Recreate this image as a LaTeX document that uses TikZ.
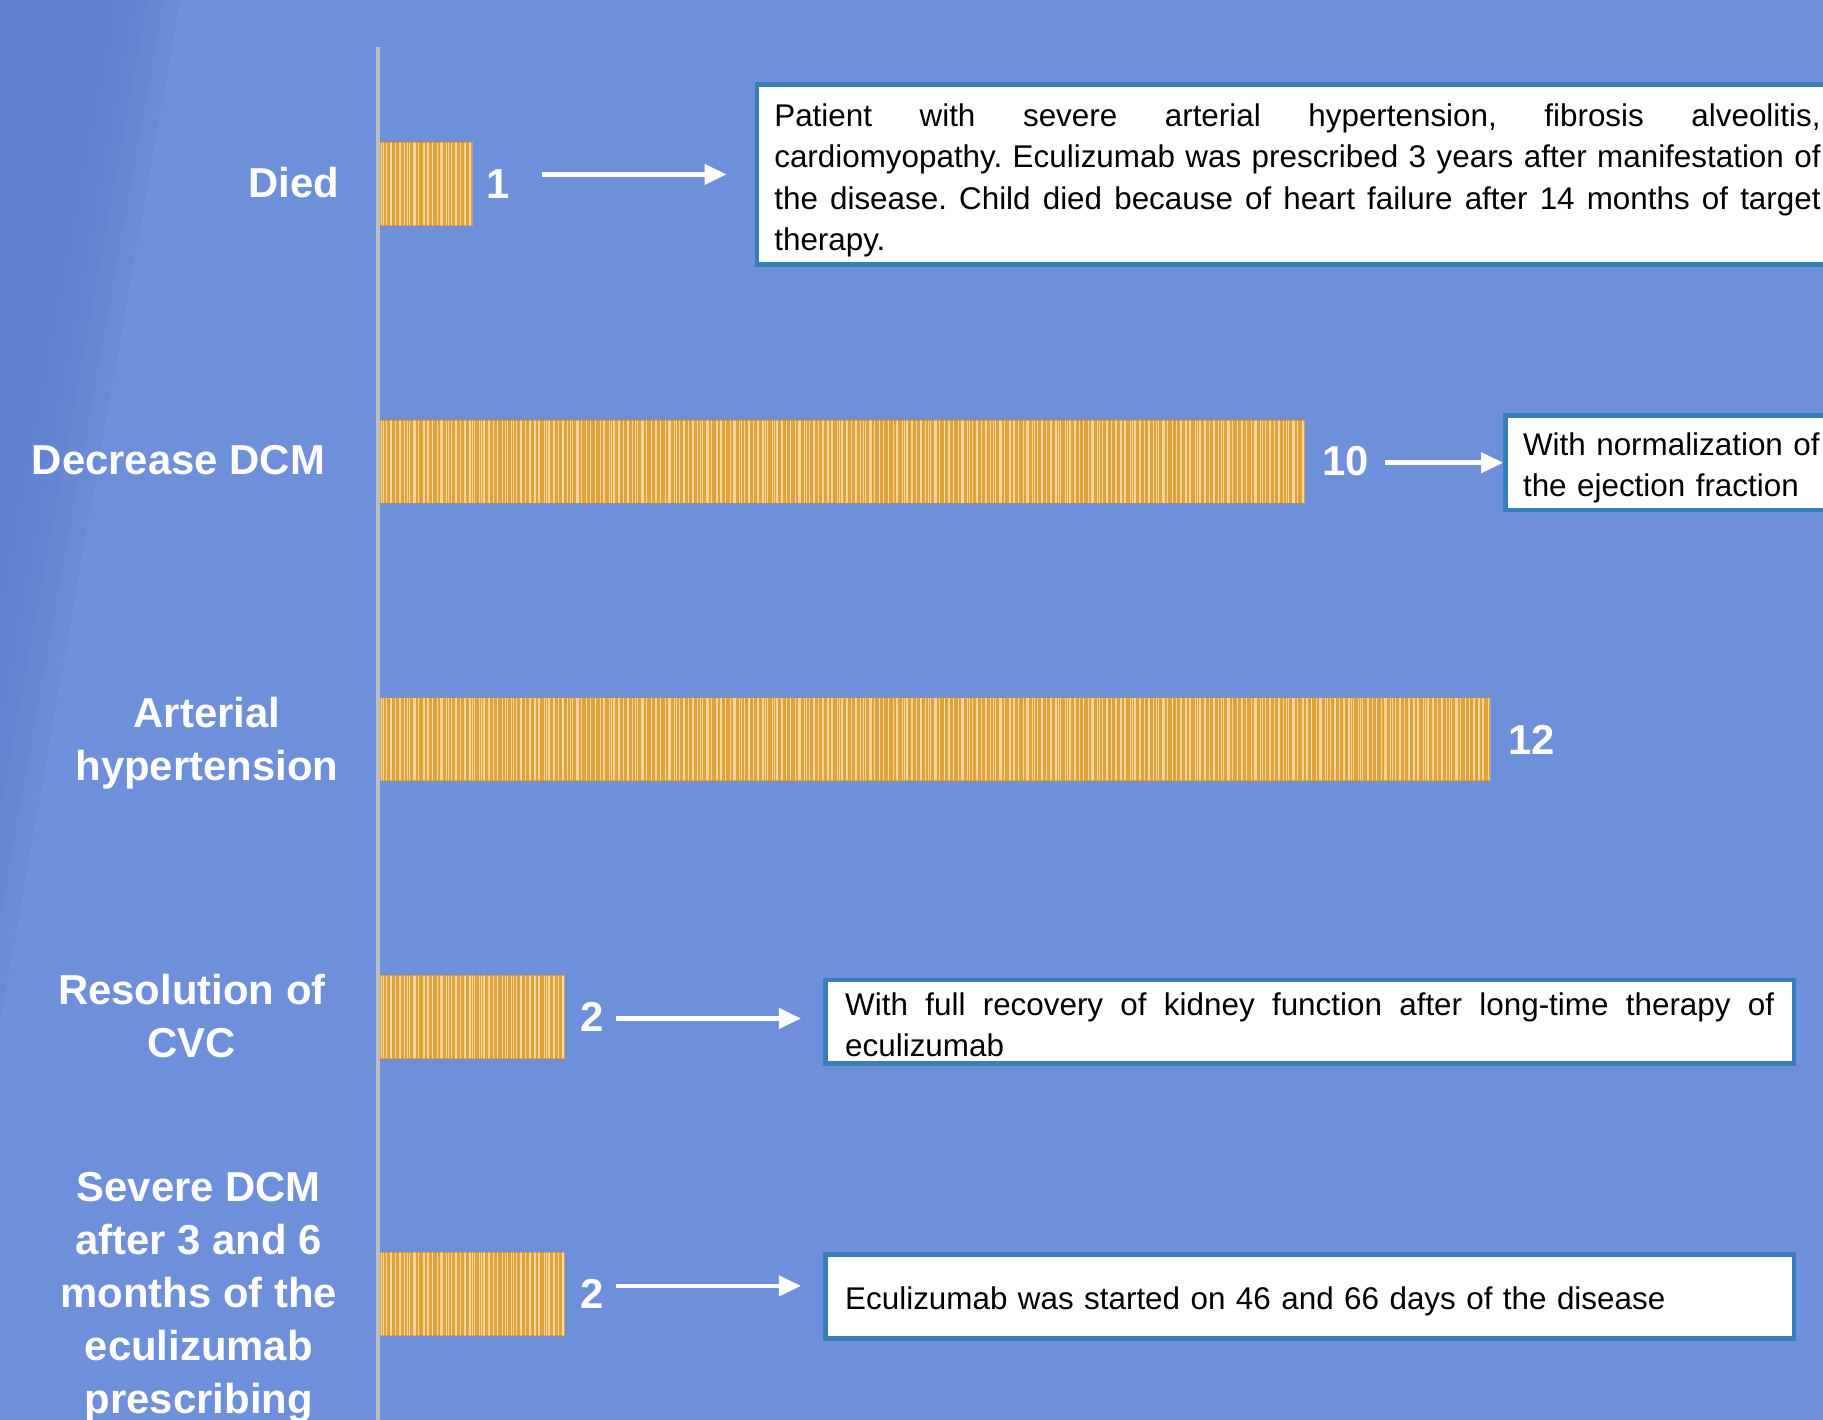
\documentclass[tikz,border=0pt]{standalone}
\usepackage{fontspec}
\setmainfont{Liberation Sans}
\usetikzlibrary{arrows.meta,calc}
\definecolor{bg}{HTML}{6E8FD9}
\definecolor{bgdark}{HTML}{5577C6}
\definecolor{axisc}{HTML}{BDBDC6}
\definecolor{barbase}{HTML}{E2A23A}
\definecolor{barlite}{HTML}{F4D59C}
\definecolor{boxc}{HTML}{3A7EB8}
\tikzset{
  lab/.style={text=white,font=\fontsize{36}{45.5}\selectfont\bfseries,align=center,inner sep=0pt},
  val/.style={text=white,font=\fontsize{36}{45.5}\selectfont\bfseries,inner sep=0pt,anchor=west},
  barbox/.style={fill=barbase,draw=none,inner sep=0pt,minimum height=72pt,anchor=west,
    path picture={
      \foreach \i in {0,4,...,960}{
        \draw[barlite,line width=1.1pt] ([xshift={\i*1pt+1.5pt}]path picture bounding box.south west) -- ([xshift={\i*1pt+1.5pt}]path picture bounding box.north west);}
      \foreach \i in {0,7,...,960}{
        \draw[barlite!70!white,line width=0.7pt,opacity=0.8] ([xshift={\i*1pt+3pt}]path picture bounding box.south west) -- ([xshift={\i*1pt+3pt}]path picture bounding box.north west);}
      \draw[barbase!85!black,line width=1.5pt,opacity=0.5] (path picture bounding box.north west) -- (path picture bounding box.north east);
      \draw[barbase!85!black,line width=1.5pt,opacity=0.5] (path picture bounding box.south west) -- (path picture bounding box.south east);
    }},
  note/.style={draw=boxc,line width=4pt,fill=white,inner xsep=15pt,inner ysep=6pt,anchor=west,
    font=\fontsize{27}{35.7}\selectfont\frenchspacing,text=black},
  arr/.style={draw=white,line width=4pt,-{Triangle[length=19pt,width=17pt]}}
}
\begin{document}
\begin{tikzpicture}[x=1pt,y=-1pt]
\useasboundingbox (0,0) rectangle (1568,1221);
\clip (0,0) rectangle (1568,1221);
\fill[bg] (0,0) rectangle (1568,1221);
\foreach \k in {0,...,5}{
  \fill[bgdark,opacity=0.12] (0,0) -- ({155-\k*14},0) -- (0,{880-\k*90}) -- cycle;
}
% axis
\draw[axisc,line width=3pt] (325,40) -- (325,1221);
% bars
\def\u{79.6}
\node[barbox,minimum width={1*\u pt}] (b1) at (326.5,158) {};
\node[barbox,minimum width={10*\u pt}] (b2) at (326.5,397) {};
\node[barbox,minimum width={12*\u pt}] (b3) at (326.5,636) {};
\node[barbox,minimum width={2*\u pt}] (b4) at (326.5,875) {};
\node[barbox,minimum width={2*\u pt}] (b5) at (326.5,1113) {};
% values
\node[val] (v1) at ([xshift=12pt]b1.east) {1};
\node[val] (v2) at ([xshift=14pt]b2.east) {10};
\node[val] (v3) at ([xshift=15pt]b3.east) {12};
\node[val] (v4) at ([xshift=13pt]b4.east) {2};
\node[val] (v5) at ([xshift=13pt]b5.east) {2};
% labels
\node[lab] (l1) at (252.5,157) {Died};
\node[lab] (l2) at (153.5,396) {Decrease DCM};
\node[lab] (l3) at (178,639) {Arterial\\hypertension};
\node[lab] (l4) at (165,874) {Resolution of\\CVC};
\node[lab] (l5) at (171,1116) {Severe DCM\\after 3 and 6\\months of the\\eculizumab\\prescribing};
% notes
\node[note,text width=900pt,align=justify,minimum height=154pt] (n1) at (649,150)
 {\rule{0pt}{30pt}Patient with severe arterial hypertension, fibrosis alveolitis,\linebreak cardiomyopathy. Eculizumab was prescribed 3 years after manifestation of\linebreak the disease. Child died because of heart failure after 14 months of target\linebreak therapy.};
\node[note,text width=320pt,align=left,minimum height=72pt] (n2) at (1293,398)
 {\rule{0pt}{28pt}With normalization of\\the ejection fraction};
\node[note,text width=799pt,align=justify,minimum height=72pt,minimum width=833pt] (n4) at (708,879)
 {\rule{0pt}{24pt}With full recovery of kidney function after long-time therapy of\linebreak eculizumab};
\node[note,text width=799pt,align=left,minimum height=72pt,minimum width=833pt] (n5) at (708,1115)
 {\rule{0pt}{28pt}Eculizumab was started on 46 and 66 days of the disease};
% arrows
\coordinate (a1) at (466,150);
\coordinate (a2) at (1191,398);
\coordinate (a4) at (530,876);
\coordinate (a5) at (530,1106);
\draw[arr,shorten >=24pt] (a1) -- (a1 -| n1.west);
\draw[arr,shorten >=0pt] (a2) -- (a2 -| n2.west);
\draw[arr,shorten >=19pt] (a4) -- (a4 -| n4.west);
\draw[arr,shorten >=19pt] (a5) -- (a5 -| n5.west);
\end{tikzpicture}
\end{document}
